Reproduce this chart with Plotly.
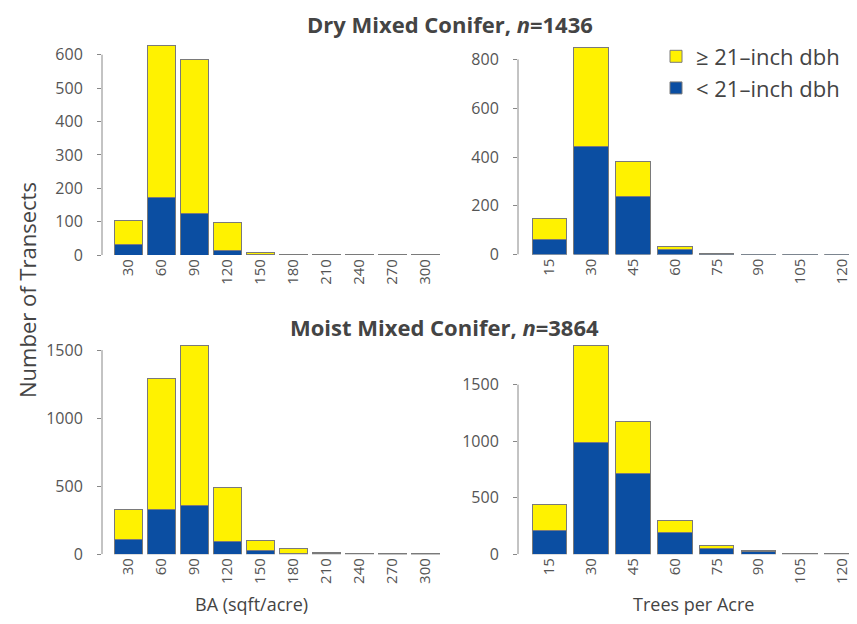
import plotly.graph_objects as go

# ---- data ----
ba_bins = ["30", "60", "90", "120", "150", "180", "210", "240", "270", "300"]
tpa_bins = ["15", "30", "45", "60", "75", "90", "105", "120"]

dry_ba_small = [31, 172, 124, 15, 3, 1, 1, 0.5, 0.3, 0.3]
dry_ba_large = [74, 455, 461, 83, 4, 1, 1, 0.5, 0.3, 0.2]
dry_tpa_small = [63, 445, 240, 20, 2, 1, 0.6, 0.6]
dry_tpa_large = [83, 406, 140, 13, 1, 0.5, 0.4, 0.4]

moist_ba_small = [111, 332, 356, 96, 24, 6, 5, 2, 1, 1]
moist_ba_large = [214, 956, 1178, 397, 75, 37, 10, 3, 2, 2]
moist_tpa_small = [206, 984, 718, 188, 52, 20, 3, 2]
moist_tpa_large = [231, 863, 457, 113, 23, 9, 2, 2]

ticks_dry_ba = [0, 100, 200, 300, 400, 500, 600]
ticks_dry_tpa = [0, 200, 400, 600, 800]
ticks_moist = [0, 500, 1000, 1500]

YELLOW = "#FFF200"
BLUE = "#0B4EA2"
EDGE = "#7a7a7a"
FONT = "Open Sans"

fig = go.Figure()

panels = [
    ("x", "y", ba_bins, dry_ba_small, dry_ba_large, True),
    ("x2", "y2", tpa_bins, dry_tpa_small, dry_tpa_large, False),
    ("x3", "y3", ba_bins, moist_ba_small, moist_ba_large, False),
    ("x4", "y4", tpa_bins, moist_tpa_small, moist_tpa_large, False),
]
for xa, ya, cats, small, large, leg in panels:
    fig.add_trace(go.Bar(x=cats, y=small, xaxis=xa, yaxis=ya, name="< 21–inch dbh",
                         marker=dict(color=BLUE, line=dict(color=EDGE, width=1)),
                         showlegend=leg, legendgroup="s"))
    fig.add_trace(go.Bar(x=cats, y=large, xaxis=xa, yaxis=ya, name="≥ 21–inch dbh",
                         marker=dict(color=YELLOW, line=dict(color=EDGE, width=1)),
                         showlegend=leg, legendgroup="l"))

W, H = 857, 624
def dx(a, b):
    return [a / W, b / W]
def dy(top, bot):
    return [1 - bot / H, 1 - top / H]

xcommon = dict(type="category", showline=False, showgrid=False, zeroline=False,
               ticks="", tickangle=-90, tickfont=dict(family=FONT, size=15, color="#555"))
ycommon = dict(showline=False, showgrid=False, zeroline=False, ticks="outside",
               ticklen=4, tickcolor="#888", ticklabelstandoff=11,
               tickfont=dict(family=FONT, size=16, color="#555"))

fig.update_layout(
    width=W, height=H, margin=dict(l=0, r=0, t=0, b=0),
    paper_bgcolor="white", plot_bgcolor="white",
    barmode="stack", bargap=0.17,
    font=dict(family=FONT, color="#444"),
    xaxis=dict(xcommon, domain=dx(94, 434), range=[-0.8, 9.5], anchor="y"),
    yaxis=dict(ycommon, domain=dy(35, 251.5), range=[0, 637], tickvals=ticks_dry_ba, anchor="x"),
    xaxis2=dict(xcommon, domain=dx(510, 855), range=[-0.75, 7.5], anchor="y2"),
    yaxis2=dict(ycommon, domain=dy(35, 251), range=[0, 870], tickvals=ticks_dry_tpa, anchor="x2"),
    xaxis3=dict(xcommon, domain=dx(94, 434), range=[-0.8, 9.5], anchor="y3"),
    yaxis3=dict(ycommon, domain=dy(334, 556), range=[0, 1603], tickvals=ticks_moist, anchor="x3"),
    xaxis4=dict(xcommon, domain=dx(510, 855), range=[-0.75, 7.5], anchor="y4"),
    yaxis4=dict(ycommon, domain=dy(334, 556), range=[0, 1929], tickvals=ticks_moist, anchor="x4"),
    legend=dict(x=648 / W, y=1 - 28 / H, xanchor="left", yanchor="top",
                traceorder="reversed", font=dict(family=FONT, size=22, color="#444"),
                bgcolor="rgba(0,0,0,0)", itemwidth=30, tracegroupgap=0),
)

# y-axis lines spanning only the tick range
for xa, ya, tv in [("x", "y", ticks_dry_ba), ("x2", "y2", ticks_dry_tpa),
                   ("x3", "y3", ticks_moist), ("x4", "y4", ticks_moist)]:
    fig.add_shape(type="line", xref=f"{xa} domain", yref=ya, x0=0, x1=0,
                  y0=tv[0], y1=tv[-1], line=dict(color="#888", width=1))

ann = [
    dict(text="<b>Dry Mixed Conifer, <i>n</i>=1436</b>", x=442 / W, y=1 - 16 / H, size=22),
    dict(text="<b>Moist Mixed Conifer, <i>n</i>=3864</b>", x=437 / W, y=1 - 325 / H, size=22),
    dict(text="BA (sqft/acre)", x=243 / W, y=1 - 607 / H, size=18),
    dict(text="Trees per Acre", x=685 / W, y=1 - 607 / H, size=18),
]
for a in ann:
    fig.add_annotation(text=a["text"], x=a["x"], y=a["y"], xref="paper", yref="paper",
                       showarrow=False, xanchor="center", yanchor="middle",
                       font=dict(family=FONT, size=a["size"], color="#444"))
fig.add_annotation(text="Number of Transects", x=19 / W, y=1 - 287 / H, xref="paper", yref="paper",
                   showarrow=False, textangle=-90, xanchor="center", yanchor="middle",
                   font=dict(family=FONT, size=22, color="#444"))

fig.write_html("out.html")
